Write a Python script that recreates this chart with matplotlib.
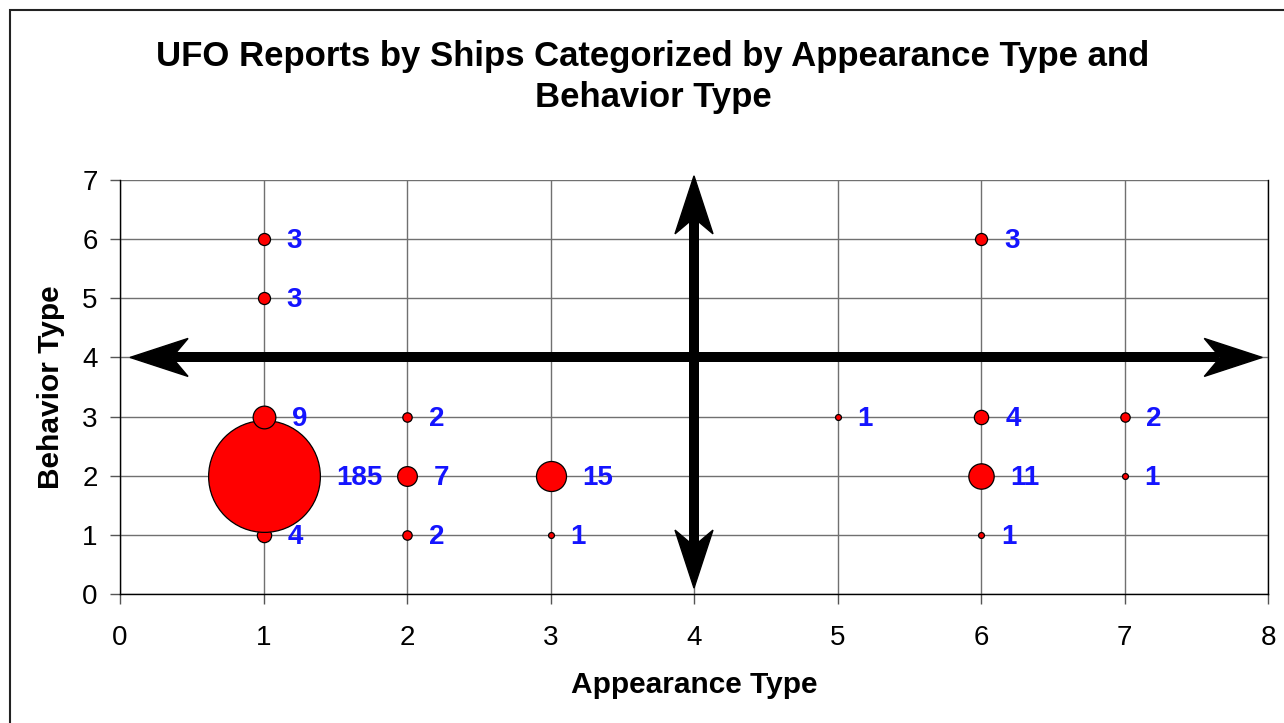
import matplotlib
matplotlib.use("Agg")
import matplotlib.pyplot as plt
import numpy as np
from matplotlib.patches import Rectangle, Polygon

plt.rcParams['font.family'] = ['Liberation Sans', 'DejaVu Sans']

# appearance type, behavior type, number of reports (drawing order as in the original)
appearance = [1, 1, 1, 1, 1, 2, 2, 2, 3, 3, 5, 6, 6, 6, 6, 7, 7]
behavior   = [6, 5, 1, 2, 3, 3, 2, 1, 2, 1, 3, 6, 3, 2, 1, 3, 2]
reports    = [3, 3, 4, 185, 9, 2, 7, 2, 15, 1, 1, 3, 4, 11, 1, 2, 1]

W, H = 1284, 723
fig = plt.figure(figsize=(W / 100, H / 100), dpi=100)
ax = fig.add_axes([120 / W, 1 - 594 / H, (1268 - 120) / W, (594 - 180) / H])

# outer chart border (right/bottom run off the picture)
fig.patches.append(Rectangle((9.5 / W, -0.1), 1.2, 1 - 10.5 / H + 0.1,
                             transform=fig.transFigure, fill=False,
                             edgecolor='#222222', linewidth=1.5))

ax.set_xlim(0, 8)
ax.set_ylim(0, 7)
ax.set_xticks(range(0, 9))
ax.set_yticks(range(0, 8))
ax.grid(True, color='#707070', linewidth=1.0)
ax.set_axisbelow(True)
ax.spines['top'].set_visible(False)
for s in ['left', 'bottom', 'right']:
    ax.spines[s].set_color('black')
    ax.spines[s].set_linewidth(1.0)
ax.tick_params(direction='out', length=7, width=1, color='#555555',
               labelsize=20)
ax.tick_params(axis='x', pad=15)
ax.tick_params(axis='y', pad=9)

# bubble diameters in pixels, roughly area-proportional like Excel
diam = 8.4 * np.sqrt(np.array(reports)) - 2.5
pt = 72 / 100
for i, (x, y, v, d) in enumerate(zip(appearance, behavior, reports, diam)):
    ax.scatter([x], [y], s=(d * pt) ** 2, color='red', edgecolor='black',
               linewidth=0.9, zorder=3 + i * 0.01)
    ax.annotate(str(v), (x, y), xytext=(d / 2 + 17, -2),
                textcoords='offset pixels', ha='left', va='center',
                color='#1414ff', fontsize=20, fontweight='bold', zorder=5)

# double headed arrows splitting the chart into quadrants
def stealth(tip, direction, length_px=58, half_px=19, notch_px=16):
    # build head in pixel space, convert back to data
    t = ax.transData.transform(tip)
    d = np.array(direction, float)
    d /= np.linalg.norm(d)
    n = np.array([-d[1], d[0]])
    pts = [t, t - d * length_px + n * half_px, t - d * (length_px - notch_px),
           t - d * length_px - n * half_px]
    pts = ax.transData.inverted().transform(np.array(pts))
    ax.add_patch(Polygon(pts, closed=True, color='black', zorder=6,
                         clip_on=False))

fig.canvas.draw()
hx = [0.07, 7.96]
vy = [0.1, 7.07]
ax.plot([hx[0] + 0.3, hx[1] - 0.3], [4, 4], color='black', linewidth=7.2,
        solid_capstyle='butt', zorder=6)
stealth((hx[0], 4), (-1, 0))
stealth((hx[1], 4), (1, 0))
ax.plot([4, 4], [vy[0] + 0.7, vy[1] - 0.7], color='black', linewidth=7.2,
        solid_capstyle='butt', zorder=6, clip_on=False)
stealth((4, vy[0]), (0, -1))
stealth((4, vy[1]), (0, 1))

ax.set_xlabel('Appearance Type', fontsize=21.5, fontweight='bold', va='center')
ax.set_ylabel('Behavior Type', fontsize=21.5, fontweight='bold', va='center')
ax.xaxis.set_label_coords(0.5, (594 - 685) / 414)
ax.yaxis.set_label_coords((51 - 120) / 1148, 0.5)
fig.text(653 / W, 1 - 77 / H,
         'UFO Reports by Ships Categorized by Appearance Type and\nBehavior Type',
         ha='center', va='center', fontsize=25, fontweight='bold',
         linespacing=1.32)

fig.savefig('out.png', dpi=100)
